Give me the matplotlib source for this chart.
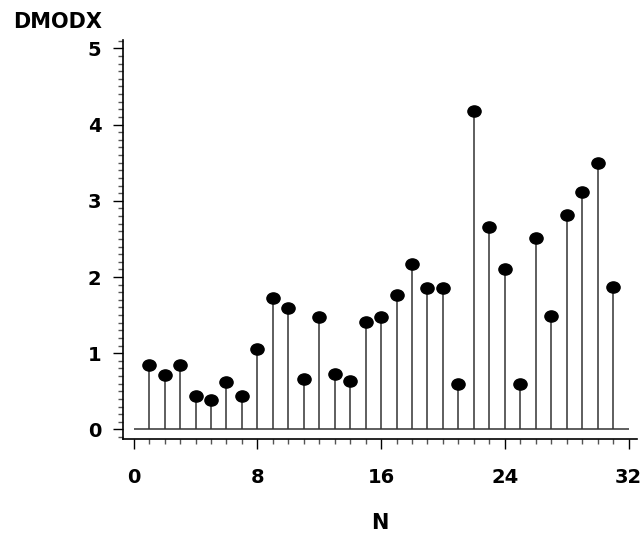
# DMODX por observacao - grafico de hastes

import numpy as np
import matplotlib.pyplot as plt
from matplotlib.path import Path
from matplotlib.transforms import Affine2D
from matplotlib.ticker import MultipleLocator
plt.close('all')

obs = np.arange(1, 32)
dmodx = [0.85, 0.71, 0.84, 0.44, 0.39, 0.62, 0.44, 1.06, 1.72, 1.59,
         0.66, 1.48, 0.73, 0.63, 1.41, 1.47, 1.77, 2.17, 1.86, 1.86,
         0.59, 4.18, 2.65, 2.10, 0.59, 2.51, 1.49, 2.81, 3.12, 3.49, 1.87]
xticks = [0, 8, 16, 24, 32]
yticks = [0, 1, 2, 3, 4, 5]

plt.rcParams['font.family'] = 'DejaVu Sans'
plt.rcParams['font.weight'] = 'bold'

fig = plt.figure(figsize=(6.43, 5.33), dpi=100)
ax = fig.add_axes([0.191, 0.176, 0.800, 0.749])

# marcador levemente achatado
ell = Path.unit_circle().transformed(Affine2D().scale(1.18, 1.0))

ax.hlines(0, 0, 32, color='#333333', lw=1.1)
ax.vlines(obs, 0, dmodx, color='#333333', lw=1.1)
ax.plot(obs, dmodx, ls='none', marker=ell, ms=9.5, color='black')

ax.set_xlim(-0.7, 32.56)
ax.set_ylim(-0.128, 5.11)
ax.set_xticks(xticks)
ax.set_yticks(yticks)
ax.xaxis.set_minor_locator(MultipleLocator(1))
ax.yaxis.set_minor_locator(MultipleLocator(0.1))

for s in ['top', 'right']:
    ax.spines[s].set_visible(False)
for s in ['left', 'bottom']:
    ax.spines[s].set_linewidth(1.2)

ax.tick_params(which='major', direction='out', length=7.5, width=1.0, labelsize=14)
ax.tick_params(which='minor', direction='out', length=3.6, width=1.0, color='#555555')
ax.tick_params(axis='y', which='major', pad=8)
ax.tick_params(axis='x', which='major', pad=13)

fig.text(13 / 643, 1 - 22.5 / 533, 'DMODX', fontsize=15, fontweight='bold',
         ha='left', va='center')
fig.text(380 / 643, 1 - 523 / 533, 'N', fontsize=15, fontweight='bold',
         ha='center', va='center')

fig.savefig('out.png', dpi=100)
